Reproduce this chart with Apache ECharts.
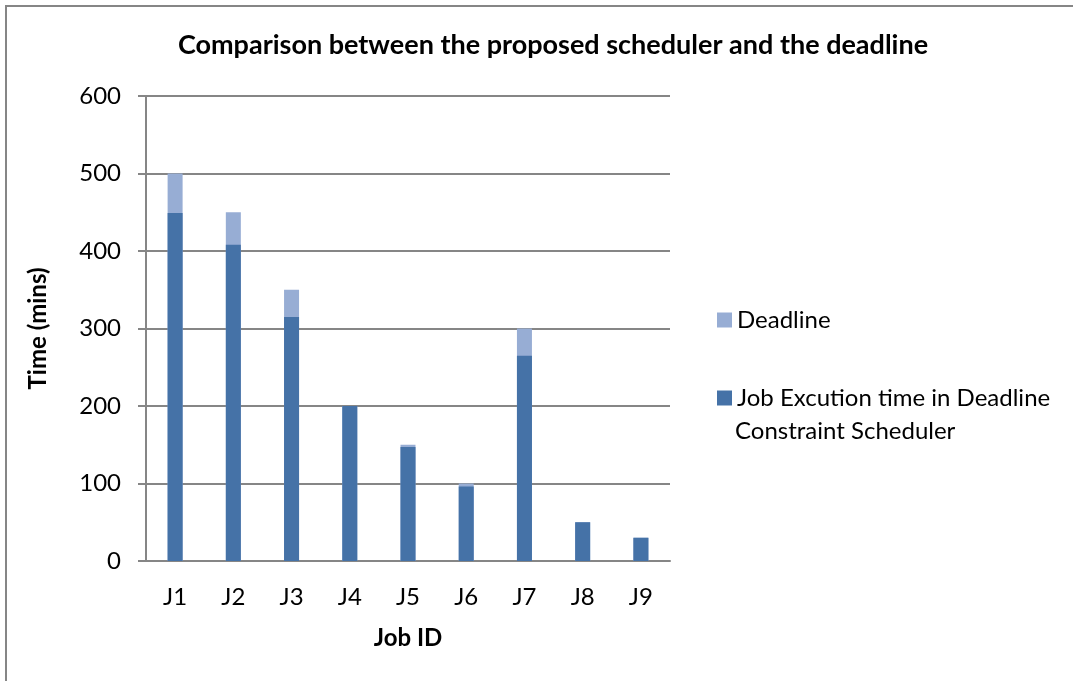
<!DOCTYPE html>
<html>
<head>
<meta charset="utf-8">
<script src="https://cdn.jsdelivr.net/npm/echarts@6/dist/echarts.min.js"></script>
<style>
  html, body { margin: 0; padding: 0; background: #fff; }
  #chart { width: 1073px; height: 681px; }
</style>
</head>
<body>
<div id="chart"></div>
<script>
const jobs = ['J1', 'J2', 'J3', 'J4', 'J5', 'J6', 'J7', 'J8', 'J9']
const deadline = [500, 450, 350, 200, 150, 100, 300, 50, 30]
const execTime = [449, 408, 315, 200, 147, 96, 265, 50, 30]

const chart = echarts.init(document.getElementById('chart'))
const font = 'Lato, "Open Sans", sans-serif'

const option = {
  animation: false,
  textStyle: { fontFamily: font },
  graphic: [
    {
      type: 'rect',
      shape: { x: 6, y: 6, width: 1100, height: 700 },
      style: { fill: 'none', stroke: '#868686', lineWidth: 2 },
      silent: true
    },
    {
      // second line of the long legend entry
      type: 'text',
      left: 735,
      top: 419,
      style: { text: 'Constraint Scheduler', fill: '#000', font: '24px ' + font },
      silent: true
    }
  ],
  title: {
    text: 'Comparison between the proposed scheduler and the deadline',
    left: 548,
    textAlign: 'center',
    top: 27,
    textStyle: { fontFamily: font, fontSize: 27, fontWeight: 'bold', color: '#000' }
  },
  legend: {
    orient: 'vertical',
    left: 712,
    top: 303,
    itemWidth: 15,
    itemHeight: 15,
    itemGap: 54,
    icon: 'rect',
    data: ['Deadline', 'Job Excution time in Deadline Constraint Scheduler'],
    formatter: function (name) {
      return name.replace(' Constraint Scheduler', '')
    },
    textStyle: { fontFamily: font, fontSize: 24, color: '#000' }
  },
  grid: { left: 146, right: 403, top: 96, bottom: 120 },
  xAxis: {
    type: 'category',
    data: jobs,
    name: 'Job ID',
    nameLocation: 'middle',
    nameGap: 65,
    nameTextStyle: { fontFamily: font, fontSize: 24, fontWeight: 'bold', color: '#000' },
    axisLine: { lineStyle: { color: '#868686', width: 2 } },
    axisTick: { show: false },
    axisLabel: { fontSize: 24, color: '#000', margin: 24 },
    splitLine: { show: false }
  },
  yAxis: {
    type: 'value',
    min: 0,
    max: 600,
    interval: 100,
    name: 'Time (mins)',
    nameLocation: 'middle',
    nameGap: 96,
    nameTextStyle: { fontFamily: font, fontSize: 24, fontWeight: 'bold', color: '#000' },
    axisLine: { show: true, lineStyle: { color: '#868686', width: 2 } },
    axisTick: { show: true, length: 8, lineStyle: { color: '#868686', width: 2 } },
    axisLabel: { fontSize: 24, color: '#000', margin: 25 },
    splitLine: { lineStyle: { color: '#868686', width: 2 } }
  },
  series: [
    {
      name: 'Deadline',
      type: 'bar',
      data: deadline,
      barWidth: 15,
      barGap: '-100%',
      itemStyle: { color: '#97ADD4' }
    },
    {
      name: 'Job Excution time in Deadline Constraint Scheduler',
      type: 'bar',
      data: execTime,
      barWidth: 15,
      itemStyle: { color: '#4572A7' }
    }
  ]
}

chart.setOption(option)
</script>
</body>
</html>
